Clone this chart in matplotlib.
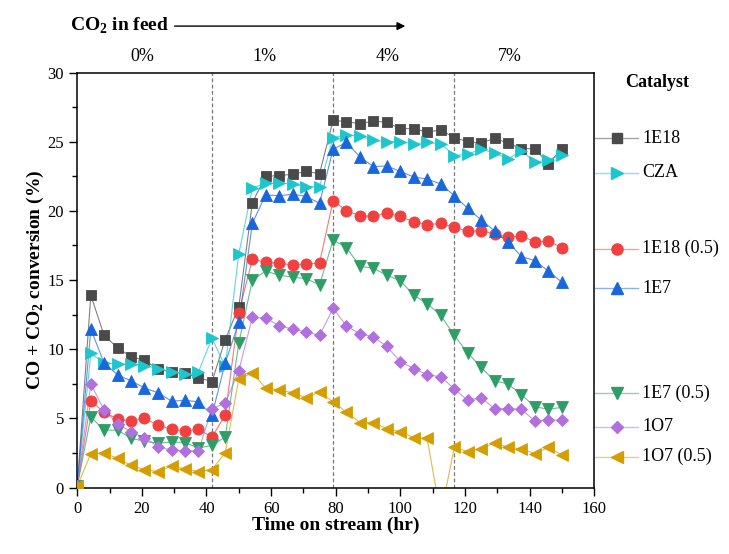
import matplotlib.pyplot as plt
import numpy as np

plt.rcParams['font.family'] = ['Liberation Serif', 'DejaVu Serif']
plt.rcParams['mathtext.fontset'] = 'custom'
plt.rcParams['mathtext.rm'] = 'Liberation Serif'
plt.rcParams['mathtext.bf'] = 'Liberation Serif:bold'

# sampling times (hr)
time_hr = [0, 4.2, 8.3, 12.5, 16.7, 20.8, 25.0, 29.2, 33.3, 37.5, 41.7, 45.8, 50.0,
           54.2, 58.3, 62.5, 66.7, 70.8, 75.0, 79.2, 83.3, 87.5, 91.7, 95.8, 100.0,
           104.2, 108.3, 112.5, 116.7, 120.8, 125.0, 129.2, 133.3, 137.5, 141.7, 145.8, 150.0]

conv_1e18 = [0.1, 13.9, 11.0, 10.1, 9.45, 9.2, 8.55, 8.35, 8.25, 7.95, 7.65, 10.7, 13.05,
             20.6, 22.5, 22.55, 22.65, 22.85, 22.7, 26.55, 26.45, 26.3, 26.5, 26.4, 25.95,
             25.95, 25.7, 25.85, 25.3, 25.0, 24.9, 25.25, 24.9, 24.5, 24.5, 23.4, 24.5]
conv_cza = [0.1, 9.7, 9.0, 8.95, 8.9, 8.8, 8.6, 8.35, 8.2, 8.35, 10.8, 8.75, 16.9,
            21.65, 22.0, 22.0, 21.95, 21.75, 21.75, 25.3, 25.5, 25.4, 25.1, 25.0, 25.0,
            24.85, 24.95, 24.85, 24.0, 24.1, 24.45, 24.2, 23.75, 24.35, 23.5, 23.7, 24.05]
conv_1e18_05 = [0.1, 6.25, 5.45, 4.95, 4.8, 5.0, 4.5, 4.2, 4.1, 4.2, 3.65, 5.25, 12.65,
                16.5, 16.3, 16.2, 16.1, 16.15, 16.25, 20.75, 20.0, 19.65, 19.6, 19.85, 19.6,
                19.2, 19.0, 19.1, 18.8, 18.55, 18.55, 18.35, 18.1, 18.2, 17.75, 17.8, 17.35]
conv_1e7 = [0.1, 11.45, 9.0, 8.15, 7.7, 7.2, 6.85, 6.25, 6.3, 6.2, 5.25, 9.0, 11.95,
            19.1, 21.15, 21.1, 21.2, 21.05, 20.55, 24.45, 24.95, 23.9, 23.2, 23.25, 22.85,
            22.45, 22.3, 21.95, 21.1, 20.2, 19.35, 18.55, 17.75, 16.7, 16.4, 15.65, 14.85]
conv_1e7_05 = [0.1, 5.1, 4.15, 4.15, 3.55, 3.35, 3.2, 3.3, 3.25, 2.85, 3.05, 3.65, 10.45,
               15.0, 15.65, 15.35, 15.2, 15.1, 14.65, 17.9, 17.35, 16.0, 15.85, 15.35, 14.95,
               13.9, 13.3, 12.45, 11.0, 9.75, 8.7, 7.7, 7.5, 6.7, 5.85, 5.65, 5.8]
conv_1o7 = [0.1, 7.5, 5.6, 4.6, 4.0, 3.6, 2.95, 2.7, 2.65, 2.65, 5.7, 6.1, 8.45,
            12.3, 12.25, 11.7, 11.45, 11.25, 11.0, 12.95, 11.7, 11.1, 10.9, 10.2, 9.1,
            8.6, 8.15, 8.0, 7.15, 6.3, 6.5, 5.7, 5.7, 5.65, 4.8, 4.9, 4.85]
conv_1o7_05 = [0.1, 2.45, 2.5, 2.1, 1.6, 1.3, 1.15, 1.55, 1.35, 1.15, 1.3, 2.5, 7.85,
               8.3, 7.2, 7.05, 6.85, 6.5, 6.9, 6.2, 5.45, 4.7, 4.7, 4.25, 4.05,
               3.6, 3.55, -2.0, 2.9, 2.6, 2.8, 3.25, 2.9, 2.8, 2.45, 2.9, 2.35]

catalysts = ['1E18', 'CZA', '1E18 (0.5)', '1E7', '1E7 (0.5)', '1O7', '1O7 (0.5)']
series = [conv_1e18, conv_cza, conv_1e18_05, conv_1e7, conv_1e7_05, conv_1o7, conv_1o7_05]
markers = ['s', '>', 'o', '^', 'v', 'D', '<']
colors = ['#4a4a4a', '#1cc6cc', '#f04040', '#1a66dd', '#2e9e66', '#b070dd', '#d49e00']
sizes = [7, 8, 8, 8, 8, 6.5, 8]
# where each catalyst name sits on the right-hand key (axes fraction)
key_y = [0.842, 0.759, 0.576, 0.480, 0.227, 0.146, 0.074]

feed_switch = [41.7, 79.2, 116.7]
feed_labels = ['0%', '1%', '4%', '7%']
feed_label_x = [20, 58, 96, 134]

fig = plt.figure(figsize=(7.29, 5.54), dpi=100)
ax = fig.add_axes([0.106, 0.120, 0.709, 0.749])

for xs in feed_switch:
    ax.axvline(xs, color='#777777', ls=(0, (3, 2)), lw=0.9, zorder=1)

for vals, m, c, ms in zip(series, markers, colors, sizes):
    ax.plot(time_hr, vals, color=c, lw=0.8, alpha=0.7, zorder=2)
    ax.plot(time_hr, vals, ls='none', marker=m, ms=ms, mfc=c,
            mec=c, mew=0.6, zorder=3)

ax.set_xlim(0, 160)
ax.set_ylim(0, 30)
ax.set_xticks(np.arange(0, 161, 20))
ax.set_xticks(np.arange(10, 161, 20), minor=True)
ax.set_yticks(np.arange(0, 31, 5))
ax.set_yticks(np.arange(2.5, 30, 5), minor=True)
ax.tick_params(which='major', direction='out', length=6, width=1, labelsize=12)
ax.tick_params(which='minor', direction='out', length=3.5, width=1)
for sp in ax.spines.values():
    sp.set_linewidth(1.1)

ax.set_xlabel('Time on stream (hr)', fontsize=14, fontweight='bold', labelpad=0)
ax.set_ylabel(r'CO + CO$_\mathbf{2}$ conversion (%)', fontsize=14,
              fontweight='bold', labelpad=1)

# feed composition header
for lab, x in zip(feed_labels, feed_label_x):
    ax.text(x, 1.018, lab, transform=ax.get_xaxis_transform(), ha='center',
            va='bottom', fontsize=13)
ax.text(-0.015, 1.112, r'CO$_\mathbf{2}$ in feed', transform=ax.transAxes,
        ha='left', va='center', fontsize=14, fontweight='bold')
ax.annotate('', xy=(0.64, 1.112), xytext=(0.183, 1.112), xycoords='axes fraction',
            arrowprops=dict(arrowstyle='-|>', color='black', lw=1.0,
                            mutation_scale=12))

# catalyst key on the right
ax.text(1.122, 0.975, 'Catalyst', transform=ax.transAxes, ha='center',
        va='center', fontsize=13, fontweight='bold')
for name, m, c, ms, y in zip(catalysts, markers, colors, sizes, key_y):
    ax.plot([1.002, 1.085], [y, y], transform=ax.transAxes, color=c, lw=1.0,
            alpha=0.5, clip_on=False)
    ax.plot([1.044], [y], transform=ax.transAxes, ls='none', marker=m, ms=ms,
            mfc=c, mec=c, clip_on=False)
    ax.text(1.093, y, name, transform=ax.transAxes, ha='left', va='center',
            fontsize=13)

fig.savefig('out.png', dpi=100)
